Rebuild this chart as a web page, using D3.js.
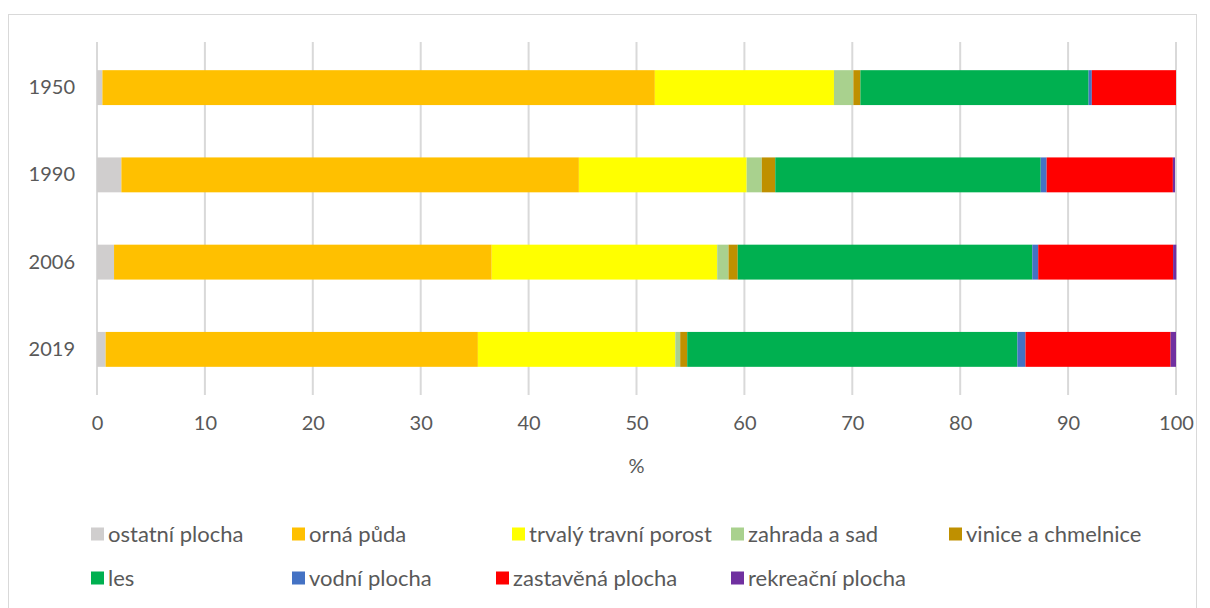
<!DOCTYPE html>
<html>
<head>
<meta charset="utf-8">
<script src="https://cdn.jsdelivr.net/npm/d3@7"></script>
<style>
  html, body { margin: 0; padding: 0; background: #fff; }
  svg { display: block; font-family: Lato, "Open Sans", sans-serif; }
</style>
</head>
<body>
<svg id="chart" width="1210" height="608"></svg>
<script>
// ---- data ----
const years = ["1950", "1990", "2006", "2019"];
const seriesNames = ["ostatní plocha", "orná půda", "trvalý travní porost", "zahrada a sad",
  "vinice a chmelnice", "les", "vodní plocha", "zastavěná plocha", "rekreační plocha"];
const ostatni   = [0.5, 2.26, 1.58, 0.8];
const orna      = [51.2, 42.4, 35.0, 34.5];
const trvaly    = [16.6, 15.55, 20.9, 18.3];
const zahrada   = [1.8, 1.4, 1.05, 0.45];
const vinice    = [0.65, 1.25, 0.85, 0.65];
const les       = [21.15, 24.6, 27.3, 30.6];
const vodni     = [0.3, 0.55, 0.55, 0.75];
const zastavena = [7.8, 11.7, 12.5, 13.45];
const rekreacni = [0.0, 0.2, 0.3, 0.5];
const xTicks = [0, 10, 20, 30, 40, 50, 60, 70, 80, 90, 100];

const seriesValues = [ostatni, orna, trvaly, zahrada, vinice, les, vodni, zastavena, rekreacni];
const colors = ["#D0CECE", "#FFC000", "#FFFF00", "#A9D18E", "#BF9000", "#00B050", "#4472C4", "#FF0000", "#7030A0"];

// ---- layout ----
const svg = d3.select("#chart");
const textColor = "#595959";
const plot = { left: 97, right: 1176, top: 44, bottom: 393 };
const tickFont = 20, legendFont = 22;

svg.append("rect")
  .attr("x", 8.5).attr("y", 14.5).attr("width", 1188).attr("height", 620)
  .attr("fill", "none").attr("stroke", "#d9d9d9").attr("stroke-width", 1);

const x = d3.scaleLinear().domain([0, 100]).range([plot.left, plot.right]);
const y = d3.scaleBand().domain(years).range([plot.top, plot.bottom]).paddingInner(0.6).paddingOuter(0.3);

// gridlines
svg.append("g").selectAll("line").data(xTicks).join("line")
  .attr("x1", d => x(d)).attr("x2", d => x(d))
  .attr("y1", plot.top - 2).attr("y2", plot.bottom + 2)
  .attr("stroke", "#d9d9d9").attr("stroke-width", 2);

// stacked data
const table = years.map((yr, i) => {
  const row = { year: yr };
  seriesNames.forEach((s, k) => row[s] = seriesValues[k][i]);
  return row;
});
const stack = d3.stack().keys(seriesNames)(table);

svg.append("g").selectAll("g").data(stack).join("g")
  .attr("fill", (d, i) => colors[i])
  .selectAll("rect").data(d => d).join("rect")
  .attr("x", d => x(d[0]))
  .attr("width", d => Math.max(0, x(d[1]) - x(d[0])))
  .attr("y", d => y(d.data.year))
  .attr("height", y.bandwidth());

// x axis labels
const xAxis = d3.axisBottom(x).tickValues(xTicks).tickSize(0).tickPadding(0).tickFormat(d3.format("d"));
const gx = svg.append("g").attr("transform", `translate(0, ${plot.bottom + 23})`).call(xAxis);
gx.select(".domain").remove();
gx.selectAll("text").attr("fill", textColor).attr("font-size", tickFont).attr("font-family", "Lato, sans-serif").attr("dy", "0.71em");

// y axis labels
const yAxis = d3.axisLeft(y).tickSize(0).tickPadding(0);
const gy = svg.append("g").attr("transform", `translate(${plot.left - 22}, 0)`).call(yAxis);
gy.select(".domain").remove();
gy.selectAll("text").attr("fill", textColor).attr("font-size", tickFont).attr("font-family", "Lato, sans-serif");

// axis title
svg.append("text").attr("x", (plot.left + plot.right) / 2).attr("y", 473)
  .attr("text-anchor", "middle").attr("fill", textColor).attr("font-size", tickFont).text("%");

// legend
const legendPos = [
  [91, 534], [292, 534], [512, 534], [731, 534], [949, 534],
  [91, 578], [292, 578], [496, 578], [731, 578]
];
const lg = svg.append("g").selectAll("g").data(seriesNames).join("g")
  .attr("transform", (d, i) => `translate(${legendPos[i][0]}, ${legendPos[i][1]})`);
lg.append("rect").attr("x", 0).attr("y", -6.5).attr("width", 13).attr("height", 13)
  .attr("fill", (d, i) => colors[i]);
lg.append("text").attr("x", 17).attr("y", 0).attr("dy", "0.35em")
  .attr("fill", textColor).attr("font-size", legendFont).text(d => d);
</script>
</body>
</html>
